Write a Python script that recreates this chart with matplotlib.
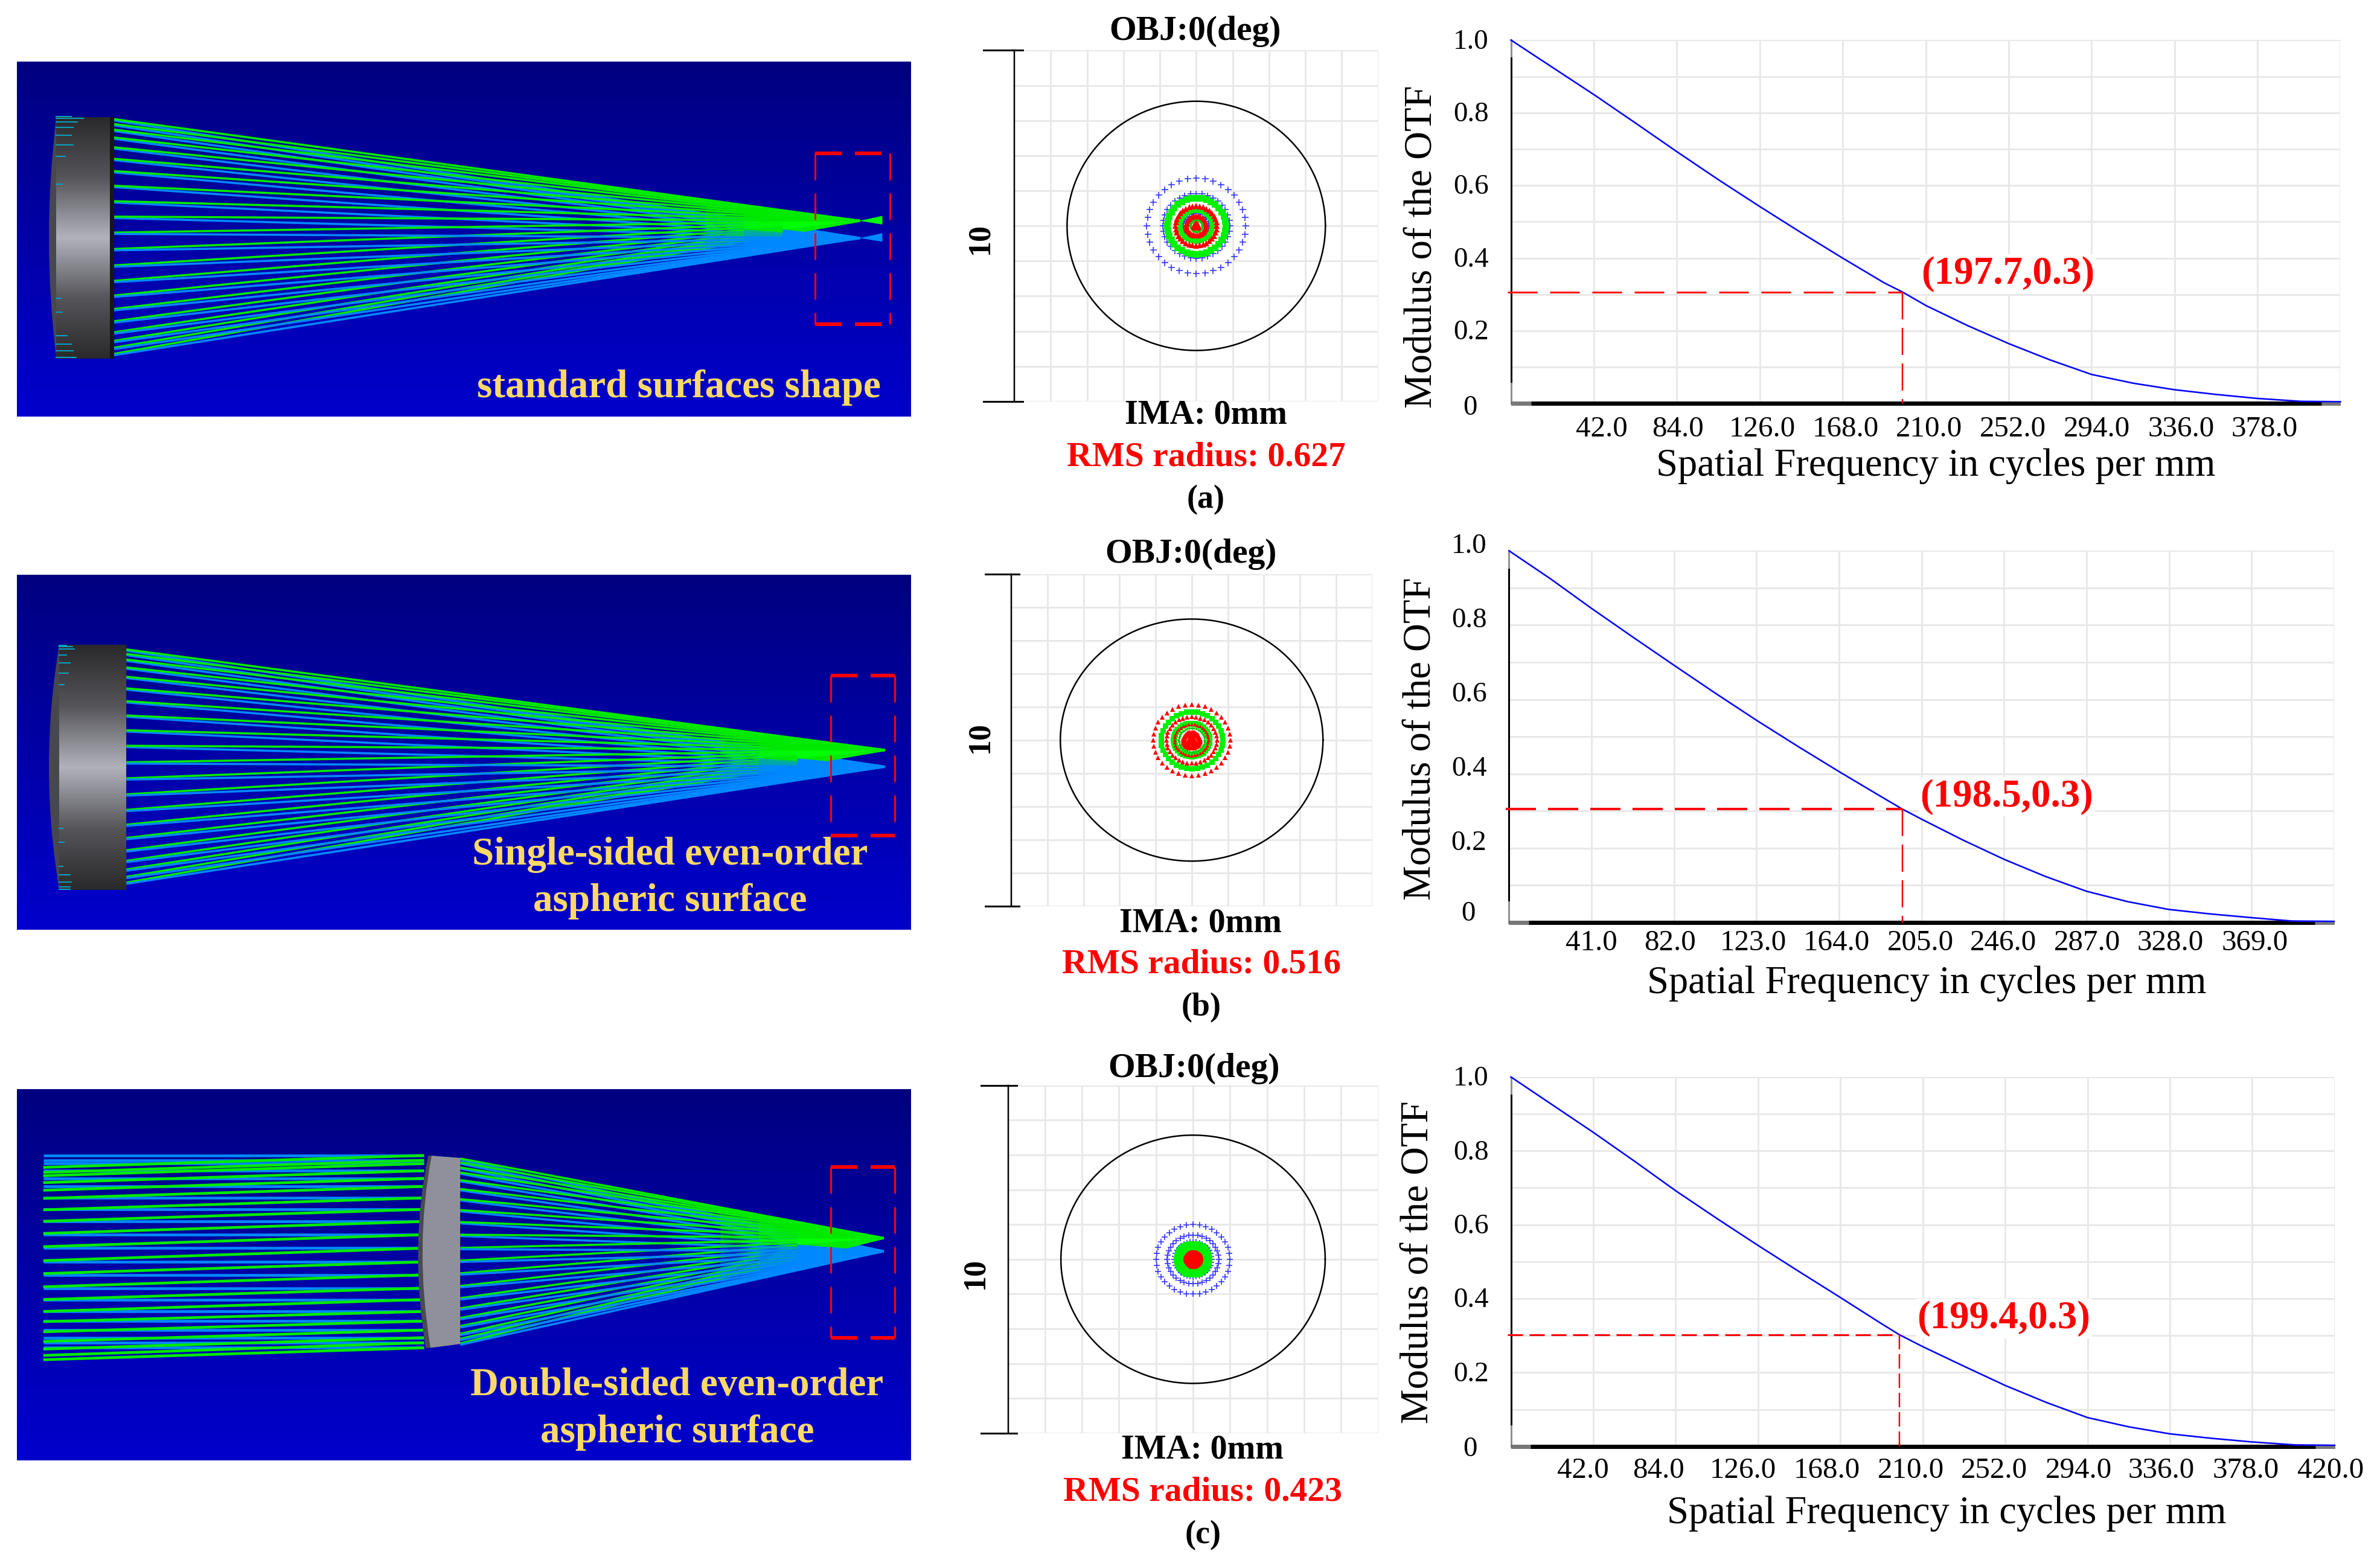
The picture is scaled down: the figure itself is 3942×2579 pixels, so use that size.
import numpy as np
import matplotlib
matplotlib.use('Agg')
import matplotlib.pyplot as plt
from matplotlib.colors import LinearSegmentedColormap
from matplotlib.patches import PathPatch
from matplotlib.path import Path

W, H = 3942, 2579
plt.rcParams['font.family'] = ['Liberation Serif', 'DejaVu Serif']
plt.rcParams['lines.scale_dashes'] = False

# ---- ray panels, values (canvas units)
LENS_Y_A = [285, 305, 328, 360, 400, 447, 497, 557, 620, 683, 748, 815, 882, 945, 1005, 1060, 1110, 1155, 1190, 1218, 1243]
LENS_Y_B = [357, 375, 398, 430, 468, 515, 567, 625, 685, 748, 815, 880, 945, 1008, 1068, 1122, 1172, 1215, 1250, 1280, 1303]
LENS_Y_C = [330, 345, 365, 385, 415, 450, 490, 533, 580, 630, 682, 732, 782, 832, 880, 920, 958, 990, 1020, 1040, 1058]
INPUT_Y_C = [318, 337, 350, 378, 408, 440, 485, 530, 578, 630, 683, 737, 788, 840, 885, 932, 970, 1005, 1035, 1055, 1075]
INPUT_GREEN_LEFT_C = [365, 385, 398, 425, 455, 487, 532, 577, 625, 677, 732, 783, 835, 885, 932, 972, 1012, 1050, 1080, 1105, 1122]
ENTRY_TICKS_A = [277, 285, 298, 320, 352, 392, 438, 552, 1015, 1070, 1165, 1200, 1227, 1255]
ENTRY_TICK_LEN_A = [25, 45, 35, 28, 25, 28, 15, 10, 8, 10, 18, 25, 28, 33]
ENTRY_TICKS_B = [340, 345, 356, 380, 412, 453, 500, 1083, 1140, 1237, 1272, 1300, 1320, 1330]
ENTRY_TICK_LEN_B = [12, 22, 25, 12, 18, 15, 8, 6, 8, 6, 18, 20, 18, 18]
CAPTION_A = ['standard surfaces shape']
CAPTION_B = ['Single-sided even-order', 'aspheric surface']
CAPTION_C = ['Double-sided even-order', 'aspheric surface']

# ---- spot diagrams: ring radii in grid units
BLUE_RINGS_A = [1.36, 0.92, 0.37]
GREEN_RINGS_A = [0.80, 0.44, 0.165]
RED_RINGS_A = [0.565, 0.27, 0.05]
RED_OUTER_B = [1.07, 0.70]
GREEN_RINGS_B = [0.855, 0.49, 0.36]
RED_RINGS_B = [0.47, 0.22, 0.07]
BLUE_RINGS_C = [1.0, 0.70, 0.50]
GREEN_RINGS_C = [0.42, 0.30]
RED_RINGS_C = [0.16, 0.07]
AIRY_RADIUS = [3.55, 3.64, 3.57]
RMS_TEXT = ['RMS radius: 0.627', 'RMS radius: 0.516', 'RMS radius: 0.423']
PANEL_TAGS = ['(a)', '(b)', '(c)']

# ---- MTF curves
FREQ_A = [0, 21, 42, 63, 84, 105, 126, 147, 168, 189, 198.2, 210, 231, 252, 273, 294, 315, 336, 357, 378, 400, 420]
MTF_A = [1.0, 0.925, 0.85, 0.772, 0.693, 0.616, 0.542, 0.47, 0.4, 0.332, 0.307, 0.27, 0.215, 0.165, 0.12, 0.08, 0.056, 0.038, 0.025, 0.014, 0.006, 0.005]
FREQ_B = [0, 20.5, 41, 61.5, 82, 102.5, 123, 143.5, 164, 184.5, 195.5, 205, 225.5, 246, 266.5, 287, 307.5, 328, 348.5, 369, 389, 410]
MTF_B = [1.0, 0.925, 0.845, 0.768, 0.692, 0.617, 0.544, 0.474, 0.406, 0.34, 0.305, 0.278, 0.222, 0.17, 0.124, 0.084, 0.056, 0.035, 0.023, 0.013, 0.004, 0.003]
FREQ_C = [0, 21, 42, 63, 84, 105, 126, 147, 168, 189, 198, 210, 231, 252, 273, 294, 315, 336, 357, 378, 400, 420]
MTF_C = [1.0, 0.925, 0.85, 0.772, 0.692, 0.617, 0.544, 0.473, 0.403, 0.332, 0.3025, 0.27, 0.217, 0.165, 0.119, 0.078, 0.053, 0.034, 0.022, 0.012, 0.004, 0.003]
TICKS_A = [42, 84, 126, 168, 210, 252, 294, 336, 378]
TICKS_B = [41, 82, 123, 164, 205, 246, 287, 328, 369]
TICKS_C = [42, 84, 126, 168, 210, 252, 294, 336, 378, 420]
CUTOFF_X = [198.2, 195.5, 198]
CUTOFF_Y = [0.307, 0.305, 0.3025]
CUTOFF_NOTE = ['(197.7,0.3)', '(198.5,0.3)', '(199.4,0.3)']
YTICKS = [0.2, 0.4, 0.6, 0.8, 1.0]
# label shift from tick, pixels
SHIFT_A = [13, 2, 4, 5, 5, 7, 9, 11, 12]
SHIFT_B = [0, -7, -5, -4, -2, -1, 1, 2, 5]
SHIFT_C = [-17, -28, -25, -22, -20, -18, -15, -14, -11, -7]

fig = plt.figure(figsize=(W / 100, H / 100), dpi=100, facecolor='white')


def pt(px):
    return px * 0.72


def px_axes(x0, y0, x1, y1):
    return fig.add_axes([x0 / W, 1 - y1 / H, (x1 - x0) / W, (y1 - y0) / H])


def px_text(x, y, s, size, **kw):
    kw.setdefault('ha', 'center')
    kw.setdefault('va', 'center')
    return fig.text(x / W, 1 - y / H, s, fontsize=pt(size), **kw)


bg_map = LinearSegmentedColormap.from_list('bg', ['#000080', '#0000cc'])
lens_map = LinearSegmentedColormap.from_list('lens', ['#2a2a2c', '#55555a', '#b2b2bc', '#55555a', '#2a2a2c'])
GREEN = '#00ea00'
GREEN_SOLID = '#00ff00'
BLUE = '#0088ff'
RAY_LW = 3.6
GRID = '#e8e8e8'


def ray_axes(y0, y1, ylim):
    ax = px_axes(27.5, y0, 1507.6, y1)
    ax.imshow(np.linspace(0, 1, 256).reshape(-1, 1), cmap=bg_map, aspect='auto',
              extent=(28, 1535, ylim[1], ylim[0]), zorder=0)
    ax.set_xlim(28, 1535)
    ax.set_ylim(ylim[1], ylim[0])
    ax.axis('off')
    return ax


def fan(ax, x0, ys, fx, f_green, f_blue, wedge_x):
    ys = np.array(ys, dtype=float)
    mid = (f_green + f_blue) / 2
    # green wins above the axis, blue below it, like the original trace
    for y in ys:
        upper = y < mid
        ax.plot([x0, fx], [y + 5, f_blue], color=BLUE, lw=pt(RAY_LW), zorder=2 if upper else 4,
                solid_capstyle='butt')
        ax.plot([x0, fx], [y, f_green], color=GREEN, lw=pt(RAY_LW), zorder=4 if upper else 2,
                solid_capstyle='butt')
    # the fans merge to solid wedges close to the focus, with a soft start
    for start, alpha in [(wedge_x - 130, 0.35), (wedge_x - 65, 0.5), (wedge_x, 1.0)]:
        t = (start - x0) / (fx - x0)
        top = ys[0] + (f_green - ys[0]) * t
        bot = ys[-1] + (f_blue - ys[-1]) * t
        ax.fill([start, fx, start], [top, f_green, mid], color=GREEN_SOLID, lw=0, zorder=3, alpha=alpha)
        ax.fill([start, fx, start], [mid, f_blue, bot], color=BLUE, lw=0, zorder=3, alpha=alpha)


def red_box(ax, x0, x1, y0, y1):
    for xs, ys, lw in [([x0, x1], [y0, y0], 6), ([x0, x1], [y1, y1], 6),
                       ([x0, x0], [y0, y1], 3), ([x1, x1], [y0, y1], 3)]:
        ax.plot(xs, ys, color='#ff0000', lw=pt(lw), dashes=(pt(44), pt(22)), zorder=6)


def grad_lens(ax, x_left, x_right, y0, y1, bulge):
    verts = [(x_left, y0), (x_right, y0), (x_right, y1), (x_left, y1), (bulge, (y0 + y1) / 2), (x_left, y0)]
    codes = [Path.MOVETO, Path.LINETO, Path.LINETO, Path.LINETO, Path.CURVE3, Path.CURVE3]
    ax.add_patch(PathPatch(Path(verts, codes), facecolor='#47474e', lw=0, zorder=5))
    ax.imshow(np.linspace(0, 1, 256).reshape(-1, 1), cmap=lens_map, aspect='auto',
              extent=(x_left, x_right, y1, y0), zorder=5.1)
    ax.set_xlim(28, 1535)


# panel a rays
ax = ray_axes(102, 690.3, (54, 1495))
fan(ax, 185, LENS_Y_A, 1450, 700, 770, 1320)
ax.fill([1450, 1488, 1488], [700, 680, 715], color=GREEN_SOLID, lw=0, zorder=4)
ax.fill([1450, 1488, 1488], [770, 750, 785], color=BLUE, lw=0, zorder=4)
grad_lens(ax, 95, 185, 280, 1258, 70)
ax.fill_between([185, 192], 280, 1258, color='#161616', lw=0, zorder=5)
for y, n in zip(ENTRY_TICKS_A, ENTRY_TICK_LEN_A):
    ax.plot([95, 95 + n], [y, y], color='#0a9fc0', lw=pt(2), zorder=6)
red_box(ax, 1375, 1501, 427, 1120)
ax.set_ylim(1495, 54)
px_text(1124.5, 642, CAPTION_A[0], 65, color='#ffd966', fontweight='bold')

# panel b rays
ax = ray_axes(952, 1540.3, (54, 1495))
fan(ax, 213, LENS_Y_B, 1492, 765, 833, 1345)
grad_lens(ax, 100, 213, 338, 1332, 65)
for y, n in zip(ENTRY_TICKS_B, ENTRY_TICK_LEN_B):
    ax.plot([100, 100 + n], [y, y], color='#0a9fc0', lw=pt(2), zorder=6)
red_box(ax, 1401, 1509, 462, 1113)
ax.set_ylim(1495, 54)
px_text(1110, 1416, CAPTION_B[0], 65, color='#ffd966', fontweight='bold')
px_text(1110, 1493, CAPTION_B[1], 65, color='#ffd966', fontweight='bold')

# panel c rays
ax = ray_axes(1803.6, 2418.5, (56, 1517))
for y in INPUT_Y_C:
    ax.plot([73, 715], [y, y], color=BLUE, lw=pt(RAY_LW + 1), zorder=2, solid_capstyle='butt')
for yl, y in zip(INPUT_GREEN_LEFT_C, INPUT_Y_C):
    ax.plot([73, 715], [yl, y], color=GREEN, lw=pt(RAY_LW + 1), zorder=3, solid_capstyle='butt')
fan(ax, 776, LENS_Y_C, 1490, 643, 695, 1345)
codes = [Path.MOVETO, Path.LINETO, Path.LINETO, Path.LINETO, Path.CURVE3, Path.CURVE3]
dark = [(722, 318), (776, 328), (776, 1060), (718, 1077), (690, 680), (722, 318)]
light = [(728, 319), (776, 328), (776, 1060), (726, 1075), (698, 680), (728, 319)]
ax.add_patch(PathPatch(Path(dark, codes), facecolor='#4a4a52', lw=0, zorder=5))
ax.add_patch(PathPatch(Path(light, codes), facecolor='#90909c', lw=0, zorder=5.1))
red_box(ax, 1401, 1509, 364, 1037)
ax.set_xlim(28, 1535)
ax.set_ylim(1517, 56)
px_text(1121.6, 2295, CAPTION_C[0], 65, color='#ffd966', fontweight='bold')
px_text(1121.6, 2373, CAPTION_C[1], 65, color='#ffd966', fontweight='bold')


# ---- spot diagrams
def ring(ax, radius, marker, color, size, count=36):
    ang = np.linspace(0, 2 * np.pi, count, endpoint=False)
    mew = 1.6 if marker == '+' else 0
    ax.plot(radius * np.cos(ang), radius * np.sin(ang), ls='none', marker=marker, color=color,
            ms=pt(size), mew=pt(mew), zorder=4)


def spot_axes(x0, y0, x1, y1, cap_l, cap_r, airy):
    ax = px_axes(x0, y0, x1, y1)
    ax.set_xlim(-5, 5)
    ax.set_ylim(-5, 5)
    ax.set_xticks(range(-4, 6))
    ax.set_yticks(range(-5, 6))
    ax.grid(color=GRID, lw=pt(3))
    ax.tick_params(length=0, labelbottom=False, labelleft=False)
    for s in ax.spines.values():
        s.set_visible(False)
    ax.set_axisbelow(True)
    theta = np.linspace(0, 2 * np.pi, 400)
    ax.plot(airy * np.cos(theta), airy * np.sin(theta), color='black', lw=pt(2.5), zorder=3)
    ax.plot([-5, -5], [-5, 5], color='black', lw=pt(2.5), clip_on=False, zorder=5)
    for y in (-5, 5):
        ax.plot([cap_l, cap_r], [y, y], color='black', lw=pt(3), clip_on=False, zorder=5)
    return ax


ax = spot_axes(1680, 83.4, 2282.6, 664.8, -5.84, -4.77, AIRY_RADIUS[0])
for r in BLUE_RINGS_A:
    ring(ax, r, '+', '#3030ff', 11)
ring(ax, GREEN_RINGS_A[0], 's', '#00f000', 11)
ring(ax, GREEN_RINGS_A[1], 's', '#00f000', 8)
ring(ax, RED_RINGS_A[0], '^', '#ff0000', 10)
ring(ax, RED_RINGS_A[1], '^', '#ff0000', 10)
ring(ax, GREEN_RINGS_A[2], 'o', '#00c800', 4)
ring(ax, RED_RINGS_A[2], '^', '#ff0000', 10)

ax = spot_axes(1675, 950.5, 2272.5, 1501.2, -5.72, -4.78, AIRY_RADIUS[1])
for r in RED_OUTER_B:
    ring(ax, r, '^', '#ff0000', 8)
ring(ax, GREEN_RINGS_B[0], 's', '#00f000', 9)
ring(ax, GREEN_RINGS_B[1], 's', '#00f000', 10)
ring(ax, RED_RINGS_B[0], '^', '#ff0000', 6)
ring(ax, GREEN_RINGS_B[2], 'o', '#00c800', 4)
ring(ax, RED_RINGS_B[1], '^', '#ff0000', 10)
ring(ax, RED_RINGS_B[2], '^', '#ff0000', 10)

ax = spot_axes(1669.5, 1797.9, 2282.6, 2373.8, -5.73, -4.77, AIRY_RADIUS[2])
for r in BLUE_RINGS_C:
    ring(ax, r, '+', '#3030ff', 10)
for r in GREEN_RINGS_C:
    ring(ax, r, 's', '#00f000', 12)
ring(ax, RED_RINGS_C[0], 'o', '#ff0000', 13)
ring(ax, RED_RINGS_C[1], 'o', '#ff0000', 13)

OBJ_XY = [(1979.5, 52), (1972.6, 918), (1977.2, 1770)]
IMA_XY = [(1997, 688), (1988.7, 1529), (1991.4, 2401)]
RMS_XY = [(1997.9, 757), (1990, 1598), (1992.4, 2471)]
TAG_XY = [(1997, 828), (1990, 1669), (1992.4, 2543)]
TEN_XY = [(1623.6, 395), (1623.6, 1221), (1615.8, 2109)]
for i in range(3):
    px_text(*OBJ_XY[i], 'OBJ:0(deg)', 57.5, fontweight='bold')
    px_text(*IMA_XY[i], 'IMA: 0mm', 56, fontweight='bold')
    px_text(*RMS_XY[i], RMS_TEXT[i], 57.5, fontweight='bold', color='#ff0000')
    px_text(*TAG_XY[i], PANEL_TAGS[i], 54, fontweight='bold')
    px_text(*TEN_XY[i], '10', 52, fontweight='bold', rotation=90)


# ---- MTF plots
def mtf_panel(box, freq, mtf, ticks, shifts, xmax, cut_x, cut_y, dash_h, dash_v, lw_h,
              note, note_xy, tick_y, ytick_shift, zero_shift, xlabel_xy, ylabel_xy):
    x0, y0, x1, y1 = box
    ax = px_axes(x0, y0, x1, y1)
    ax.set_xlim(0, xmax)
    ax.set_ylim(0, 1)
    ax.set_xticks(ticks + ([xmax] if xmax not in ticks else []))
    ax.set_yticks(np.arange(1, 11) / 10)
    ax.grid(color=GRID, lw=pt(3))
    ax.tick_params(length=0, labelbottom=False, labelleft=False)
    for s in ax.spines.values():
        s.set_visible(False)
    ax.set_axisbelow(True)
    # axis bars: gray stubs at both ends, black between them
    ax.plot([0, 0], [0, 1], color='black', lw=pt(3), clip_on=False, zorder=3)
    ax.plot([0, 0], [0.955, 1], color='#909090', lw=pt(3), clip_on=False, zorder=3)
    ax.plot([0, 0], [0, 0.055], color='#909090', lw=pt(3), clip_on=False, zorder=3)
    ax.plot([0, xmax], [0, 0], color='black', lw=pt(7), clip_on=False, zorder=3, solid_capstyle='butt')
    ax.plot([0, xmax * 0.024], [0, 0], color='#777777', lw=pt(7), clip_on=False, zorder=3, solid_capstyle='butt')
    ax.plot([xmax * 0.977, xmax], [0, 0], color='#777777', lw=pt(7), clip_on=False, zorder=3, solid_capstyle='butt')
    ax.plot(freq, mtf, color='#0505ff', lw=pt(2.6), zorder=4, clip_on=False)
    ax.plot([-xmax * 0.004, cut_x], [cut_y, cut_y], color='#ff0000', lw=pt(lw_h),
            dashes=(pt(dash_h[0]), pt(dash_h[1])), clip_on=False, zorder=5)
    ax.plot([cut_x, cut_x], [cut_y, 0], color='#ff0000', lw=pt(2.5),
            dashes=(pt(dash_v[0]), pt(dash_v[1])), zorder=5)
    px_text(*note_xy, note, 65, color='#ff0000', fontweight='bold',
            bbox=dict(facecolor='white', edgecolor='none', pad=2), zorder=6)
    per_unit = (x1 - x0) / xmax
    for t, s in zip(ticks, shifts):
        px_text(x0 + t * per_unit + s, tick_y, f'{t:.1f}', 49)
    span = y1 - y0
    for v in YTICKS:
        px_text(x0 - 37, y1 - v * span + ytick_shift, f'{v:.1f}', 47, ha='right')
    px_text(x0 - 56, y1 + zero_shift, '0', 47, ha='right')
    px_text(*xlabel_xy, 'Spatial Frequency in cycles per mm', 64.5)
    px_text(*ylabel_xy, 'Modulus of the OTF', 64.8, rotation=90)


mtf_panel((2502.6, 66.4, 3876.4, 668.4), FREQ_A, MTF_A, TICKS_A, SHIFT_A, 420, CUTOFF_X[0], CUTOFF_Y[0],
          (49, 21), (45, 14), 3, CUTOFF_NOTE[0], (3326, 454), 711, 3, 7, (3206.4, 772.5), (2356, 408.5))
mtf_panel((2499.4, 912.3, 3865.8, 1528), FREQ_B, MTF_B, TICKS_B, SHIFT_B, 410, CUTOFF_X[1], CUTOFF_Y[1],
          (50, 20), (45, 14), 4, CUTOFF_NOTE[1], (3324, 1319.5), 1562, -8, -14, (3191.6, 1629), (2354, 1223.5))
mtf_panel((2502.6, 1783.9, 3866.8, 2395.8), FREQ_C, MTF_C, TICKS_C, SHIFT_C, 420, CUTOFF_X[2], CUTOFF_Y[2],
          (25, 11), (24, 8), 3, CUTOFF_NOTE[2], (3318.8, 2184), 2436.5, 3, 5, (3224.5, 2507.5), (2350, 2090.4))

fig.savefig('out.png', dpi=100, facecolor='white')
